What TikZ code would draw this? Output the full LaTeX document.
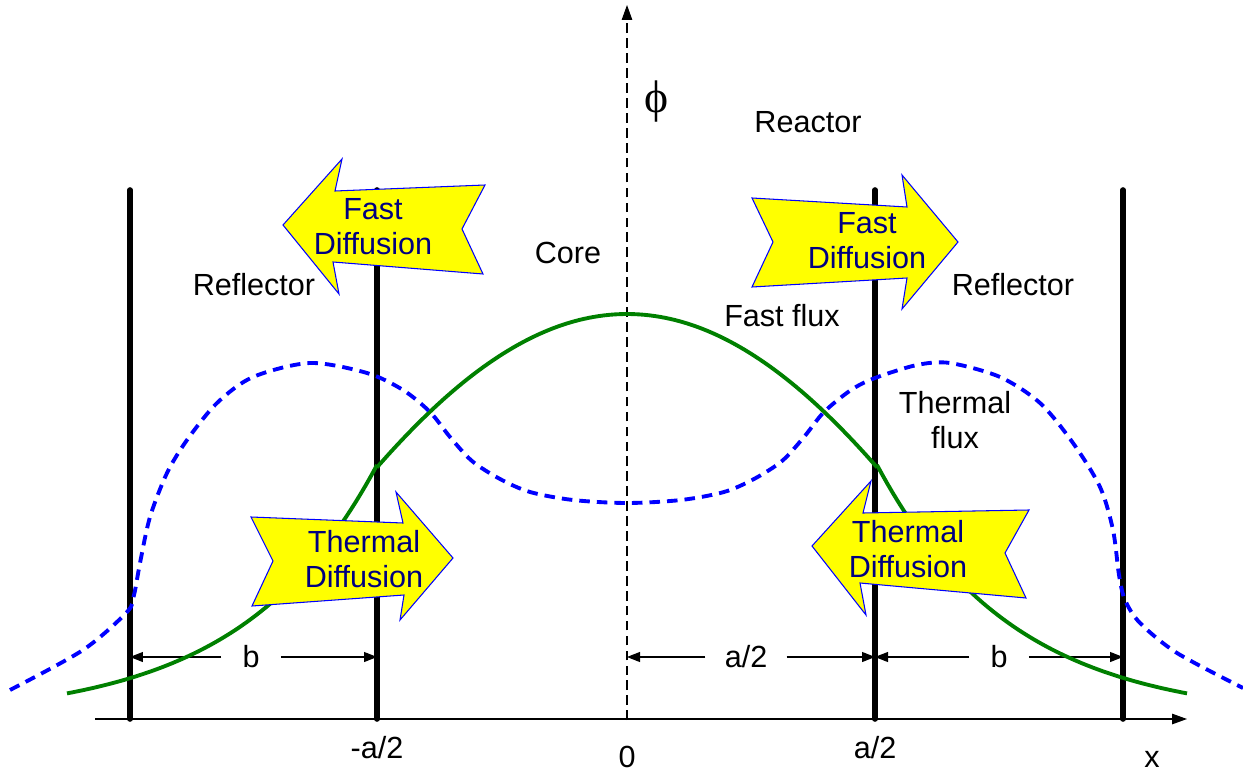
\documentclass[tikz,border=0pt]{standalone}
\usepackage{fontspec}
\setmainfont{Liberation Sans}
\newfontfamily\phifont{Liberation Serif}
\usetikzlibrary{arrows.meta}
\definecolor{fluxgreen}{RGB}{0,128,0}
\definecolor{fluxblue}{RGB}{0,0,255}
\definecolor{navytext}{RGB}{0,0,128}
\definecolor{arrowyellow}{RGB}{255,255,0}
\begin{document}
\begin{tikzpicture}[x=0.02cm,y=-0.02cm,
  lbl/.style={font=\fontsize{17.4}{20}\selectfont, inner sep=0pt, align=center},
  wall/.style={line width=3.2pt, line cap=round},
  dimline/.style={line width=0.6pt, -{Triangle[length=0.26cm,width=0.2cm]}},
  dimlabel/.style={lbl, inner xsep=0.42cm},
  axisline/.style={line width=0.7pt, -{Triangle[length=0.3cm,width=0.21cm]}},
  yaxisline/.style={line width=0.6pt, dash pattern=on 5.5pt off 3pt, -{Triangle[length=0.3cm,width=0.21cm]}},
  fastcurve/.style={fluxgreen, line width=2.2pt},
  thermcurve/.style={fluxblue, line width=2.2pt, dash pattern=on 6pt off 4pt},
  blockarrow/.style={fill=arrowyellow, draw=fluxblue, line width=0.6pt, line join=miter},
  arrowtext/.style={lbl, text=navytext},
]
\useasboundingbox (0,0) rectangle (1243,773);

% coordinates
\coordinate (xstart) at (95,719);
\coordinate (xend) at (1187,719);
\coordinate (ybot) at (627,720);
\coordinate (ytop) at (627,5);
\coordinate (w1t) at (130,190); \coordinate (w1b) at (130,719);
\coordinate (w2t) at (377,190); \coordinate (w2b) at (377,719);
\coordinate (w3t) at (875,190); \coordinate (w3b) at (875,719);
\coordinate (w4t) at (1123,190); \coordinate (w4b) at (1123,719);
\coordinate (d1) at (130,657);
\coordinate (d2) at (377,657);
\coordinate (d0) at (627,657);
\coordinate (d3) at (875,657);
\coordinate (d4) at (1123,657);

% dimension labels and lines
\node[dimlabel] (bl) at (251,657) {b};
\node[dimlabel, inner xsep=0.38cm] (ah) at (746,657) {a/2};
\node[dimlabel] (br) at (999,657) {b};
\draw[dimline] (bl.west) -- (d1);
\draw[dimline] (bl.east) -- (d2);
\draw[dimline] (ah.west) -- (d0);
\draw[dimline] (ah.east) -- (d3);
\draw[dimline] (br.west) -- (d3);
\draw[dimline] (br.east) -- (d4);

% axes
\draw[axisline] (xstart) -- (xend);
\draw[yaxisline] (ybot) -- (ytop);

% walls
\draw[wall] (w1t) -- (w1b);
\draw[wall] (w2t) -- (w2b);
\draw[wall] (w3t) -- (w3b);
\draw[wall] (w4t) -- (w4b);

% fast flux: cosine in the core, decaying in the reflectors
\draw[fastcurve] plot[domain=67:377, samples=60] (\x, {719-254*exp(-0.0074*(377-\x))});
\draw[fastcurve] plot[domain=377:877, samples=100] (\x, {719-405*cos(deg(0.0036*(\x-627)))});
\draw[fastcurve] plot[domain=877:1187, samples=60] (\x, {719-254*exp(-0.0074*(\x-877))});

% thermal flux
\draw[thermcurve] plot[smooth, tension=0.5] coordinates {
(10,690) (83,650) (127,612) (134,595) (140,563) (150,517) (167,473) (187,440)
(217,403) (253,377) (310,363) (367,373) (403,390) (430,412) (450,437) (472,461)
(500,479) (530,492) (573,500) (627,503) (681,500) (724,492) (754,479) (782,461)
(804,437) (824,412) (851,390) (875,378) (917,365) (950,363) (1000,377) (1040,403)
(1073,443) (1100,487) (1113,530) (1119,575) (1125,600) (1140,623) (1177,653)
(1243,688)};

% block arrows
\draw[blockarrow] (283,225) -- (342,159) -- (335,191) -- (485,185) -- (462,229)
  -- (483,274) -- (333,262) -- (339,294) -- cycle;
\draw[blockarrow] (251,517) -- (403,523) -- (396,492) -- (453,558) -- (400,620)
  -- (404,595) -- (252,606) -- (273,561) -- cycle;
\draw[blockarrow] (752,198) -- (907,207) -- (902,175) -- (958,242) -- (902,309)
  -- (907,278) -- (752,287) -- (773,242) -- cycle;
\draw[blockarrow] (812,546) -- (871,481) -- (863,513) -- (1029,510) -- (1005,553)
  -- (1026,598) -- (860,583) -- (866,615) -- cycle;

\node[arrowtext] (fdl) at (373,227) {Fast\\Diffusion};
\node[arrowtext] (tdl) at (364,559) {Thermal\\Diffusion};
\node[arrowtext] (fdr) at (867,241) {Fast\\Diffusion};
\node[arrowtext] (tdr) at (908,549) {Thermal\\Diffusion};

% labels
\node[lbl] (phi) at (657,102) {\fontsize{26}{28}\selectfont\phifont ϕ};
\node[lbl] (reactor) at (808,122) {Reactor};
\node[lbl] (core) at (568,253) {Core};
\node[lbl] (refl) at (254,285) {Reflector};
\node[lbl] (refr) at (1013,285) {Reflector};
\node[lbl] (ffl) at (782,316) {Fast flux};
\node[lbl] (tfl) at (955,420) {Thermal\\flux};
\node[lbl] (lm) at (377,748) {-a/2};
\node[lbl] (l0) at (627,757) {0};
\node[lbl] (lp) at (875,748) {a/2};
\node[lbl] (lx) at (1152,759) {x};
\end{tikzpicture}
\end{document}
